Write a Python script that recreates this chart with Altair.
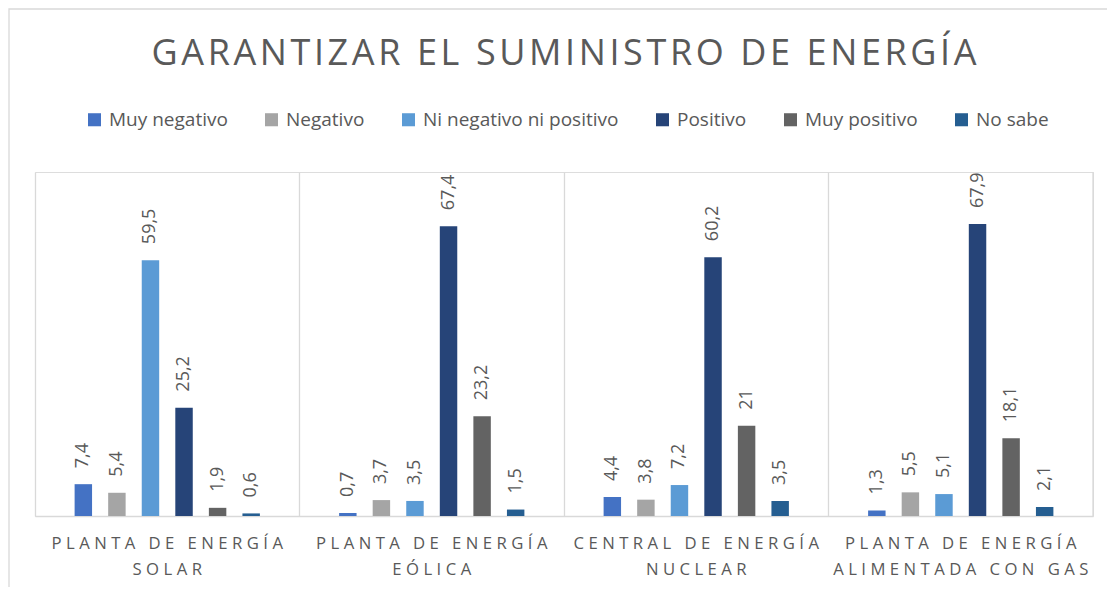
import altair as alt
import pandas as pd

# ---- data ----
categories = [
    ("PLANTA DE ENERGÍA", "SOLAR"),
    ("PLANTA DE ENERGÍA", "EÓLICA"),
    ("CENTRAL DE ENERGÍA", "NUCLEAR"),
    ("PLANTA DE ENERGÍA", "ALIMENTADA CON GAS"),
]
series = ["Muy negativo", "Negativo", "Ni negativo ni positivo", "Positivo", "Muy positivo", "No sabe"]
colors = ["#4472C4", "#A5A5A5", "#5B9BD5", "#264478", "#636363", "#255E91"]

muy_negativo = [7.4, 0.7, 4.4, 1.3]
negativo = [5.4, 3.7, 3.8, 5.5]
ni_neg_ni_pos = [59.5, 3.5, 7.2, 5.1]
positivo = [25.2, 67.4, 60.2, 67.9]
muy_positivo = [1.9, 23.2, 21, 18.1]
no_sabe = [0.6, 1.5, 3.5, 2.1]

title_text = "GARANTIZAR EL SUMINISTRO DE ENERGÍA"

FONT = "Open Sans"
GRAY = "#595959"
LINE = "#d9d9d9"


def spaced(s, sep="\u2009"):
    return sep.join(s)


cat_keys = [spaced(a, "\u2009\u200a") + "|" + spaced(b, "\u2009\u200a") for a, b in categories]
values = [muy_negativo, negativo, ni_neg_ni_pos, positivo, muy_positivo, no_sabe]

rows = []
for s, vals in zip(series, values):
    for c, v in zip(cat_keys, vals):
        rows.append({"cat": c, "serie": s, "valor": v, "etiqueta": f"{v:g}".replace(".", ",")})
df = pd.DataFrame(rows)

W, H = 1058, 344

# offset domain with empty slots at both ends to create the outer gap of each group
offset_domain = ["_l"] + series + ["_r"]

x_enc = alt.X("cat:N", sort=cat_keys, scale=alt.Scale(paddingInner=0, paddingOuter=0),
              axis=alt.Axis(title=None, labelAngle=0, tickSize=0, ticks=False, grid=True,
                            bandPosition=0, gridColor=LINE, gridWidth=1.3,
                            domainColor=LINE, domainWidth=1.3,
                            labelFont=FONT, labelFontSize=16.7, labelColor=GRAY,
                            labelPadding=19, labelLineHeight=26, labelBaseline="top",
                            labelLimit=0, labelOverlap=False,
                            labelExpr="split(datum.label, '|')"))
xo_enc = alt.XOffset("serie:N", scale=alt.Scale(domain=offset_domain, paddingInner=0.48, paddingOuter=0.18))
y_enc = alt.Y("valor:Q", scale=alt.Scale(domain=[0, 80], nice=False), axis=None)

bars = alt.Chart(df).mark_bar().encode(
    x=x_enc,
    xOffset=xo_enc,
    y=y_enc,
    color=alt.Color("serie:N", sort=series,
                    scale=alt.Scale(domain=series, range=colors),
                    legend=alt.Legend(orient="none", legendX=50, legendY=-62,
                                      direction="horizontal", title=None,
                                      symbolType="square", symbolSize=170,
                                      symbolStrokeWidth=0, labelFont=FONT,
                                      labelFontSize=19, labelColor=GRAY,
                                      labelLimit=400,
                                      columnPadding=34, labelOffset=5)),
)

labels = alt.Chart(df).mark_text(angle=270, align="left", baseline="middle", dx=16,
                                 font=FONT, fontSize=18, color=GRAY).encode(
    x=alt.X("cat:N", sort=cat_keys),
    xOffset=alt.XOffset("serie:N"),
    y=alt.Y("valor:Q"),
    text="etiqueta:N",
)

one = pd.DataFrame({"k": [0]})
right_line = alt.Chart(one).mark_rule(color=LINE, strokeWidth=1.3).encode(
    x=alt.value(W), y=alt.value(0), y2=alt.value(H))
border = alt.Chart(one).mark_rect(fillOpacity=0, stroke=LINE, strokeWidth=1.3).encode(
    x=alt.value(-26), y=alt.value(-163), x2=alt.value(W + 200), y2=alt.value(H + 200))

chart = alt.layer(border, right_line, bars, labels).properties(
    width=W, height=H,
    title=alt.TitleParams(text=spaced(title_text, "\u200a"), font=FONT, fontSize=36,
                          fontWeight="normal", color=GRAY, anchor="middle",
                          frame="group", baseline="alphabetic", offset=-93),
    autosize=alt.AutoSizeParams(type="none"),
    padding={"left": 27, "top": 164, "right": 14, "bottom": 71},
).configure_view(stroke=None).configure(background="white")

chart.save("out.html", embed_options={"renderer": "svg", "actions": False})
